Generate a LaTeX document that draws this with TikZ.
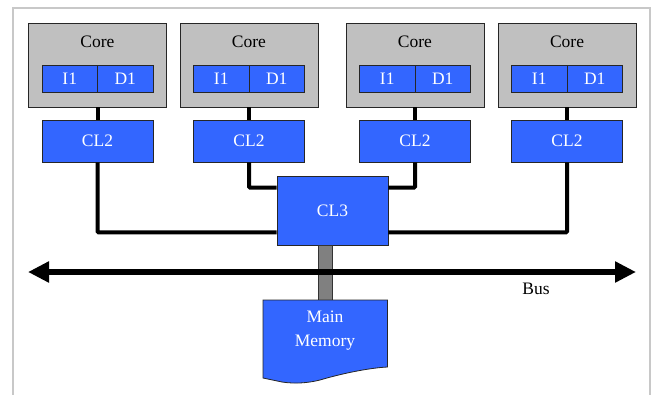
\documentclass[tikz,border=0pt]{standalone}
\usepackage{fontspec}
\setmainfont{Liberation Serif}
\usetikzlibrary{arrows.meta}
\definecolor{cblue}{RGB}{51,102,255}
\definecolor{cgray}{RGB}{192,192,192}
\definecolor{bargray}{RGB}{128,128,128}
\definecolor{framegray}{RGB}{200,200,200}
\begin{document}
\begin{tikzpicture}[x=1pt,y=-1pt,
  every node/.style={font=\fontsize{17.5}{24}\selectfont, inner sep=0pt},
  corebox/.style={draw=black!85, line width=0.9pt, fill=cgray, minimum width=138pt, minimum height=84pt},
  cellbox/.style={draw=black!85, line width=0.8pt, fill=cblue, text=white, minimum width=55.5pt, minimum height=27pt},
  cltwo/.style={draw=black!85, line width=0.8pt, fill=cblue, text=white, minimum width=111pt, minimum height=42pt},
  conn/.style={line width=4pt, black},
  lbl/.style={text=black}]
\useasboundingbox (0,0) rectangle (652,394);
\fill[white] (0,0) rectangle (652,394);
\draw[framegray, line width=1.5pt] (13,400) -- (13,8) -- (650,8) -- (650,400);

\foreach \n/\x in {a/97.5,b/249,c/415,d/567}{
  \node[corebox] (core\n) at (\x,65) {};
  \node[lbl] (corelbl\n) at (\x,42) {Core};
  \node[cellbox] (i\n) at (\x-27.75,78.5) {I1};
  \node[cellbox] (d\n) at (\x+27.75,78.5) {D1};
  \node[cltwo] (cl\n) at (\x,141) {CL2};
  \draw[conn] (core\n.south) -- (cl\n.north);
}
\node[cltwo, minimum height=69pt] (cl3) at (332.5,210.5) {CL3};

\draw[conn, rounded corners=1pt] (cla.south) |- ([yshift=13pt]cl3.south west);
\draw[conn, rounded corners=1pt] (clb.south) |- ([yshift=-12pt]cl3.north west);
\draw[conn, rounded corners=1pt] (clc.south) |- ([yshift=-12pt]cl3.north east);
\draw[conn, rounded corners=1pt] (cld.south) |- ([yshift=13pt]cl3.south east);

% main memory
\coordinate (memtop) at (325,300);
\draw[fill=bargray, draw=black!80, line width=0.8pt] ([xshift=-7pt]memtop |- cl3.south) rectangle ([xshift=7pt]memtop);

\coordinate (busL) at (28,272);
\coordinate (busR) at (636,272);
\draw[line width=6pt, {Triangle[width=20pt,length=21pt]}-{Triangle[width=20pt,length=21pt]}] (busL) -- (busR);
\node[lbl] (buslbl) at (536,289) {Bus};

\draw[fill=cblue, draw=black!85, line width=0.8pt]
  (263,300) -- (387.5,300) -- (387.5,367)
  .. controls (368,368) and (340,374) .. (320,380)
  .. controls (308,383) and (295,384) .. (282,382)
  -- (263,378) -- cycle;
\node[text=white, align=center] (mem) at (325,331) {Main\\Memory};
\end{tikzpicture}
\end{document}
